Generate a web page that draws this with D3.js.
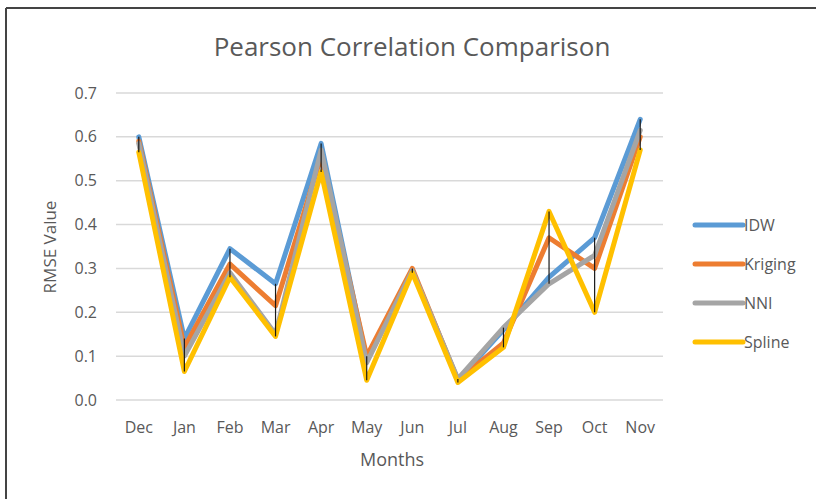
<!DOCTYPE html>
<html>
<head>
<meta charset="utf-8">
<script src="https://cdn.jsdelivr.net/npm/d3@7"></script>
<style>
  body { margin: 0; background: #fff; overflow: hidden; }
  svg { display: block; }
  text { font-family: "Open Sans", "Noto Sans", sans-serif; fill: #595959; }
</style>
</head>
<body>
<div id="chart"></div>
<script>
// months and the four interpolation methods
var months = ["Dec", "Jan", "Feb", "Mar", "Apr", "May", "Jun", "Jul", "Aug", "Sep", "Oct", "Nov"];
var idw     = [0.600, 0.140, 0.345, 0.265, 0.585, 0.090, 0.295, 0.045, 0.160, 0.280, 0.370, 0.640];
var kriging = [0.590, 0.120, 0.310, 0.215, 0.555, 0.100, 0.300, 0.045, 0.130, 0.370, 0.300, 0.600];
var nni     = [0.585, 0.100, 0.290, 0.150, 0.570, 0.085, 0.295, 0.048, 0.165, 0.265, 0.330, 0.615];
var spline  = [0.565, 0.065, 0.280, 0.145, 0.520, 0.045, 0.290, 0.040, 0.120, 0.430, 0.200, 0.570];
var seriesNames = ["IDW", "Kriging", "NNI", "Spline"];
var yTicks = [0, 0.1, 0.2, 0.3, 0.4, 0.5, 0.6, 0.7];

var width = 816, height = 499;
var svg = d3.select("#chart").append("svg").attr("width", width).attr("height", height);

// frame: only the top and left edges are in view
svg.append("line").attr("x1", 6).attr("x2", width).attr("y1", 8).attr("y2", 8)
  .attr("stroke", "#444").attr("stroke-width", 2);
svg.append("line").attr("x1", 6).attr("x2", 6).attr("y1", 8).attr("y2", height)
  .attr("stroke", "#444").attr("stroke-width", 2);

var plotLeft = 116, plotRight = 663, plotTop = 93, plotBottom = 400;

var x = d3.scalePoint().domain(months).range([plotLeft, plotRight]).padding(0.5);
var y = d3.scaleLinear().domain([0, 0.7]).range([plotBottom, plotTop]);
var color = d3.scaleOrdinal().domain(seriesNames).range(["#5B9BD5", "#ED7D31", "#A5A5A5", "#FFC000"]);

// gridlines
svg.selectAll(".grid").data(yTicks).enter().append("line")
  .attr("x1", plotLeft).attr("x2", plotRight)
  .attr("y1", function(d) { return y(d); }).attr("y2", function(d) { return y(d); })
  .attr("stroke", "#d9d9d9").attr("stroke-width", 1.5);

// y tick labels
svg.selectAll(".ylab").data(yTicks).enter().append("text")
  .attr("x", 97).attr("y", function(d) { return y(d); }).attr("dy", "0.35em")
  .attr("text-anchor", "end").style("font-size", "16px")
  .text(function(d) { return d3.format(".1f")(d); });

// x tick labels
svg.selectAll(".xlab").data(months).enter().append("text")
  .attr("x", function(d) { return x(d); }).attr("y", 427).attr("dy", "0.35em")
  .attr("text-anchor", "middle").style("font-size", "16px")
  .text(function(d) { return d; });

// lines
var series = [idw, kriging, nni, spline];
var line = d3.line()
  .x(function(d, i) { return x(months[i]); })
  .y(function(d) { return y(d); });

series.forEach(function(vals, k) {
  svg.append("path").datum(vals)
    .attr("d", line)
    .attr("fill", "none")
    .attr("stroke", color(seriesNames[k]))
    .attr("stroke-width", 5)
    .attr("stroke-linejoin", "round")
    .attr("stroke-linecap", "round");
});

// high-low lines
svg.selectAll(".hilo").data(months).enter().append("line")
  .attr("x1", function(d) { return x(d); }).attr("x2", function(d) { return x(d); })
  .attr("y1", function(d, i) { return y(d3.max(series, function(s) { return s[i]; })); })
  .attr("y2", function(d, i) { return y(d3.min(series, function(s) { return s[i]; })); })
  .attr("stroke", "#1a1a1a").attr("stroke-width", 1.2);

// titles
svg.append("text").attr("x", 412).attr("y", 47).attr("dy", "0.35em")
  .attr("text-anchor", "middle").style("font-size", "26px")
  .text("Pearson Correlation Comparison");

svg.append("text").attr("x", 392).attr("y", 460).attr("dy", "0.35em")
  .attr("text-anchor", "middle").style("font-size", "18px")
  .text("Months");

svg.append("text")
  .attr("transform", "translate(50," + 247 + ") rotate(-90)")
  .attr("dy", "0.35em").attr("text-anchor", "middle").style("font-size", "17px")
  .text("RMSE Value");

// legend
var legend = svg.selectAll(".legend").data(seriesNames).enter().append("g")
  .attr("transform", function(d, i) { return "translate(695," + (225 + i * 39) + ")"; });

legend.append("line").attr("x1", 0).attr("x2", 48).attr("y1", 0).attr("y2", 0)
  .attr("stroke", function(d) { return color(d); }).attr("stroke-width", 5)
  .attr("stroke-linecap", "round");

legend.append("text").attr("x", 49).attr("y", 0).attr("dy", "0.35em")
  .style("font-size", "16px")
  .text(function(d) { return d; });
</script>
</body>
</html>
